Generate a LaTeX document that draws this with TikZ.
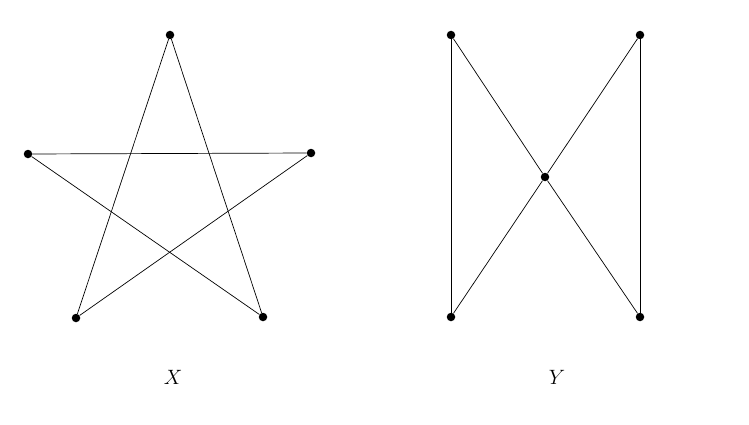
\documentclass[tikz,border=0pt]{standalone}
\begin{document}
\begin{tikzpicture}[x=1pt,y=-1pt,
  vtx/.style={circle,fill=black,inner sep=0pt,minimum size=8.5pt},
  edge/.style={line width=0.7pt},
  lbl/.style={font=\fontsize{22}{26}\selectfont}]
\useasboundingbox (0,0) rectangle (749,425);
% X
\node[vtx] (xt) at (170,35) {};
\node[vtx] (xl) at (28,154) {};
\node[vtx] (xr) at (311,153) {};
\node[vtx] (xbl) at (76,318) {};
\node[vtx] (xbr) at (263,317) {};
\draw[edge] (xt) -- (xbl);
\draw[edge] (xt) -- (xbr);
\draw[edge] (xl) -- (xr);
\draw[edge] (xl) -- (xbr);
\draw[edge] (xr) -- (xbl);
\node[lbl] (lx) at (173,377) {$X$};
% Y
\node[vtx] (ytl) at (451,35) {};
\node[vtx] (ytr) at (640,35) {};
\node[vtx] (yc) at (545,177) {};
\node[vtx] (ybl) at (451,317) {};
\node[vtx] (ybr) at (640,317) {};
\draw[edge] (ytl) -- (ybl);
\draw[edge] (ytr) -- (ybr);
\draw[edge] (ytl) -- (yc);
\draw[edge] (yc) -- (ybr);
\draw[edge] (ytr) -- (yc);
\draw[edge] (yc) -- (ybl);
\node[lbl] (ly) at (557,377) {$Y$};
\end{tikzpicture}
\end{document}
